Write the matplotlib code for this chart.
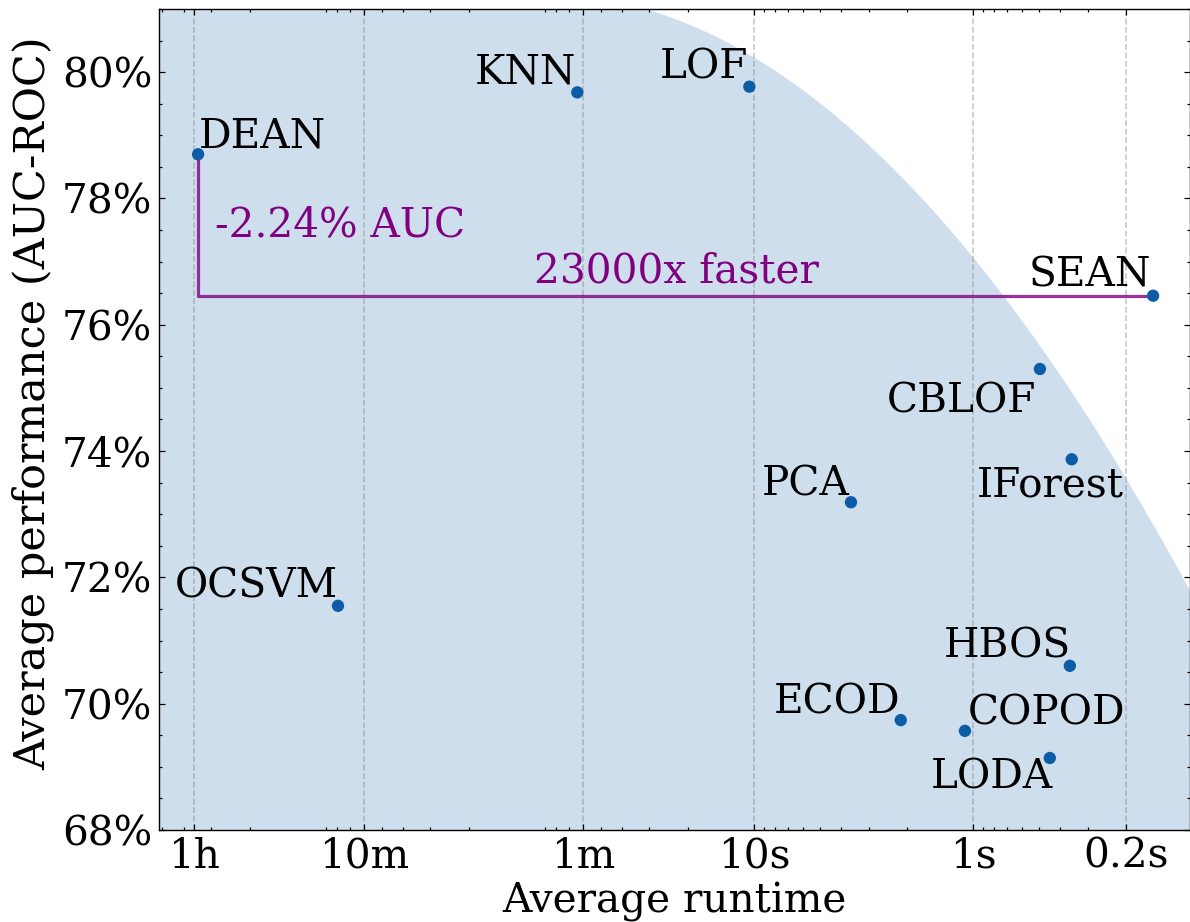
import numpy as np
import matplotlib
matplotlib.use("Agg")
import matplotlib.pyplot as plt
from matplotlib.ticker import FixedLocator, MultipleLocator, PercentFormatter

plt.rcParams['font.family'] = ['DejaVu Serif']
plt.rcParams['font.size'] = 20.3

# dane: metoda, sredni czas [s], srednie AUC-ROC [%]
methods = ['DEAN', 'KNN', 'LOF', 'SEAN', 'CBLOF', 'IForest', 'PCA',
           'OCSVM', 'HBOS', 'ECOD', 'COPOD', 'LODA']
runtime_s = [3440, 64.0, 10.5, 0.151, 0.496, 0.355, 3.61,
             791, 0.362, 2.14, 1.09, 0.447]
auc = [78.70, 79.68, 79.77, 76.46, 75.30, 73.87, 73.19,
       71.55, 70.60, 69.74, 69.57, 69.14]

# granica zacienionego obszaru
frontier_runtime = [25.5, 10.1, 7.45, 4.05, 2.40, 1.69, 1.00, 0.716, 0.480, 0.287, 0.199, 0.1026]
frontier_auc = [80.99, 80.14, 79.87, 79.28, 78.55, 77.97, 77.10, 76.43, 75.60, 74.49, 73.54, 71.75]

tick_runtime = [3600, 600, 60, 10, 1, 0.2]
tick_labels = ['1h', '10m', '1m', '10s', '1s', '0.2s']

speedup_label = '23000x faster'
auc_drop_label = '-2.24% AUC'

# (dx, dy) w punktach, wyrownanie poziome
label_style = {
    'DEAN': (0.5, 3.5, 'left'), 'KNN': (-0.5, 4.5, 'right'), 'LOF': (-0.5, 4, 'right'),
    'SEAN': (-1, 4.5, 'right'), 'CBLOF': (-2, -22, 'right'),
    'IForest': (-10.5, -18.5, 'center'), 'PCA': (-0.5, 3.5, 'right'),
    'OCSVM': (0, 4, 'right'), 'HBOS': (0.5, 4, 'right'),
    'ECOD': (0, 3.5, 'right'), 'COPOD': (1.5, 3, 'left'),
    'LODA': (1.5, -15, 'right'),
}

dot_color = '#0C5DA5'

fig = plt.figure(figsize=(1190 / 144, 922 / 144), dpi=144)
ax = fig.add_axes([159.3 / 1190, 1 - 830 / 922, (1189.5 - 159.3) / 1190, (830 - 9) / 922])
ax.set_xscale('log')
xlim = (5170, 0.103)

# obszar pod granica (kwadrat w skali log, po lewej stronie szczytu pelny)
coef = np.polyfit(np.log10(frontier_runtime), frontier_auc, 2)
xs = np.logspace(np.log10(xlim[1]) - 0.1, np.log10(xlim[0]) + 0.1, 400)
ys = np.maximum.accumulate(np.polyval(coef, np.log10(xs)))
ax.fill_between(xs, 60, ys, color=dot_color, alpha=0.2, linewidth=0, zorder=1)

# DEAN -> SEAN
i_dean, i_sean = methods.index('DEAN'), methods.index('SEAN')
ax.plot([runtime_s[i_dean], runtime_s[i_dean], runtime_s[i_sean]],
        [auc[i_dean], auc[i_sean], auc[i_sean]],
        color='purple', alpha=0.8, linewidth=1.6, zorder=2)
ax.text(2880, 77.40, auc_drop_label, color='purple', ha='left', va='baseline')
ax.text(22.6, 76.67, speedup_label, color='purple', ha='center', va='baseline')

ax.scatter(runtime_s, auc, s=38, color=dot_color, edgecolors='none', zorder=3)
for m, t, a in zip(methods, runtime_s, auc):
    dx, dy, ha = label_style[m]
    ax.annotate(m, (t, a), xytext=(dx, dy), textcoords='offset points',
                ha=ha, va='baseline')

ax.set_xlim(*xlim)
ax.set_ylim(68, 81)
ax.xaxis.set_major_locator(FixedLocator(tick_runtime))
ax.set_xticklabels(tick_labels)
ax.yaxis.set_major_locator(MultipleLocator(2))
ax.yaxis.set_minor_locator(MultipleLocator(0.5))
ax.yaxis.set_major_formatter(PercentFormatter(decimals=0))
ax.tick_params(which='both', direction='in', top=True, right=True, width=0.6)
ax.tick_params(which='major', length=3)
ax.tick_params(which='minor', length=1.5)
for s in ax.spines.values():
    s.set_linewidth(0.7)
ax.grid(axis='x', which='major', color='gray', alpha=0.45, linestyle='--', linewidth=0.8)

ax.set_xlabel('Average runtime', labelpad=2.5)
ax.set_ylabel('Average performance (AUC-ROC)', fontsize=21.5)
ax.yaxis.label.set_y(0.52)

fig.savefig('out.png', dpi=144)
